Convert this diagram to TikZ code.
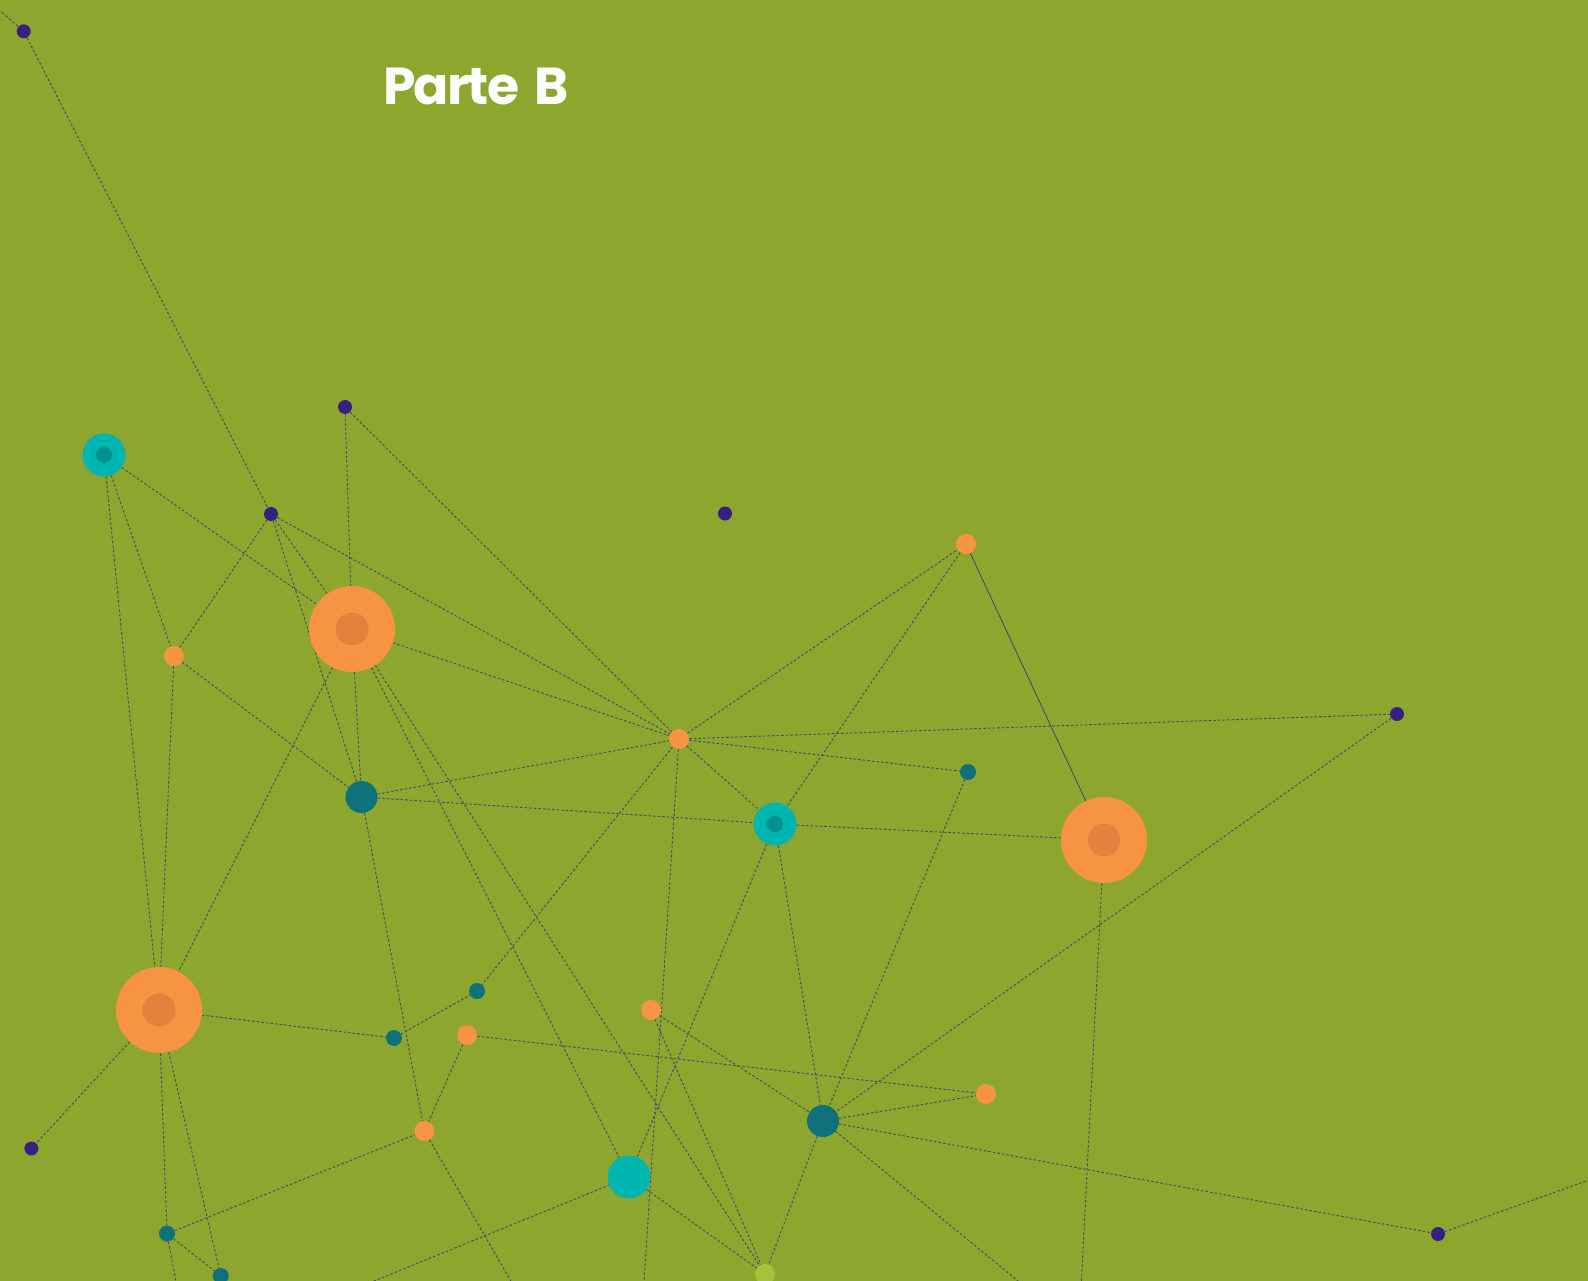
\documentclass[tikz,border=0pt]{standalone}
\usepackage{fontspec}
\newfontfamily\titlefont[LetterSpace=-3.5,WordSpace=1.7]{Poppins}
\usetikzlibrary{backgrounds}
\definecolor{bggreen}{RGB}{141,167,46}
\definecolor{orng}{RGB}{247,148,68}
\definecolor{orngin}{RGB}{226,130,60}
\definecolor{tealb}{RGB}{0,180,176}
\definecolor{tealin}{RGB}{0,148,144}
\definecolor{tealdk}{RGB}{14,113,123}
\definecolor{purp}{RGB}{56,32,128}
\definecolor{lgreen}{RGB}{168,193,58}
\definecolor{edgec}{RGB}{76,74,106}
\tikzset{
  dot/.style={circle,inner sep=0pt,draw=none},
  purpdot/.style={dot,fill=purp,minimum size=14pt},
  orsmall/.style={dot,fill=orng,minimum size=20pt},
  orbig/.style={dot,fill=orng,minimum size=86pt,
     path picture={\fill[orngin] (path picture bounding box.center) circle (16.5pt);}},
  tksmall/.style={dot,fill=tealdk,minimum size=16pt},
  tkmed/.style={dot,fill=tealdk,minimum size=32pt},
  tring/.style={dot,fill=tealb,minimum size=43pt,
     path picture={\fill[tealin] (path picture bounding box.center) circle (8pt);}},
  tsolid/.style={dot,fill=tealb,minimum size=43pt},
  lgdot/.style={dot,fill=lgreen,minimum size=20pt},
  link/.style={draw=edgec,line width=0.95pt,dash pattern=on 2.6pt off 2pt},
  solidlink/.style={draw=edgec,line width=0.9pt}
}
\begin{document}
\begin{tikzpicture}[x=1pt,y=-1pt]
\useasboundingbox (0,0) rectangle (1588,1281);
% nodes
\node[purpdot] (P1) at (23.7,31.3) {};
\node[purpdot] (P2) at (345,407) {};
\node[purpdot] (P3) at (271,514) {};
\node[purpdot] (P4) at (725,513.5) {};
\node[purpdot] (P5) at (1397,714) {};
\node[purpdot] (P6) at (31.4,1148.5) {};
\node[purpdot] (P7) at (1438,1234) {};
\node[tring] (T1) at (104,455) {};
\node[tring] (T2) at (775,824) {};
\node[tsolid] (T3) at (629,1177) {};
\node[orbig] (B1) at (352,629) {};
\node[orbig] (B2) at (1104,840) {};
\node[orbig] (B3) at (159,1010) {};
\node[orsmall] (O1) at (966,544) {};
\node[orsmall] (O2) at (174,656) {};
\node[orsmall] (O3) at (679,739) {};
\node[orsmall] (O4) at (467,1035) {};
\node[orsmall] (O5) at (651,1010) {};
\node[orsmall] (O6) at (986,1094) {};
\node[orsmall] (O7) at (424.4,1131) {};
\node[tkmed] (D1) at (361.5,797) {};
\node[tkmed] (D5) at (823,1121) {};
\node[tksmall] (D2) at (968,772) {};
\node[tksmall] (D3) at (477,991) {};
\node[tksmall] (D4) at (394,1038) {};
\node[tksmall] (D6) at (167,1233.6) {};
\node[tksmall] (D7) at (220.8,1276) {};
\node[lgdot] (L1) at (765,1274) {};
% free ends beyond the frame
\coordinate (eTL) at (-5,6.5);
\coordinate (eB2) at (1081,1290);
\coordinate (eD6) at (177.5,1290);
\coordinate (eO7) at (516,1290);
\coordinate (eT3) at (352,1290);
\coordinate (eD5) at (1029,1290);
\coordinate (eP7) at (1600,1176);
\coordinate (eO3) at (643.5,1290);
% title
\node[anchor=base west,inner sep=0pt,text=white] (title) at (383,105)
  {\titlefont\bfseries\fontsize{52}{52}\selectfont Parte B};
\begin{pgfonlayer}{background}
\fill[bggreen] (0,0) rectangle (1588,1281);
\draw[link] (eTL) -- (P1);
\draw[link] (P1) -- (P3);
\draw[link] (T1) -- (B1);
\draw[link] (T1) -- (O2);
\draw[link] (T1) -- (B3);
\draw[link] (P3) -- (O2);
\draw[link] (P3) -- (B1);
\draw[link] (P3) -- (D1);
\draw[link] (P3) -- (O3);
\draw[link] (P2) -- (B1);
\draw[link] (P2) -- (O3);
\draw[link] (B1) -- (O3);
\draw[link] (B1) -- (D1);
\draw[link] (B1) -- (B3);
\draw[link] (B1) -- (T3);
\draw[link] (B1) -- (L1);
\draw[link] (O2) -- (D1);
\draw[link] (O2) -- (B3);
\draw[link] (D1) -- (O3);
\draw[link] (D1) -- (T2);
\draw[link] (D1) -- (O7);
\draw[link] (O3) -- (O1);
\draw[link] (O3) -- (P5);
\draw[link] (O3) -- (D2);
\draw[link] (O3) -- (T2);
\draw[link] (O3) -- (D3);
\draw[link] (O3) -- (eO3);
\draw[link] (O1) -- (T2);
\draw[solidlink] (O1) -- (B2);
\draw[link] (T2) -- (B2);
\draw[link] (T2) -- (D5);
\draw[link] (T2) -- (T3);
\draw[link] (D2) -- (D5);
\draw[link] (P5) -- (D5);
\draw[link] (B2) -- (eB2);
\draw[link] (B3) -- (D4);
\draw[link] (B3) -- (P6);
\draw[link] (B3) -- (D6);
\draw[link] (D6) -- (eD6);
\draw[link] (B3) -- (D7);
\draw[link] (D6) -- (D7);
\draw[link] (D6) -- (O7);
\draw[link] (D4) -- (D3);
\draw[link] (O4) -- (O7);
\draw[link] (O4) -- (O6);
\draw[link] (O7) -- (eO7);
\draw[link] (eT3) -- (T3);
\draw[link] (T3) -- (L1);
\draw[link] (O5) -- (D5);
\draw[link] (O5) -- (L1);
\draw[link] (D5) -- (O6);
\draw[link] (D5) -- (P7);
\draw[link] (D5) -- (L1);
\draw[link] (D5) -- (eD5);
\draw[link] (P7) -- (eP7);
\end{pgfonlayer}
\end{tikzpicture}
\end{document}
